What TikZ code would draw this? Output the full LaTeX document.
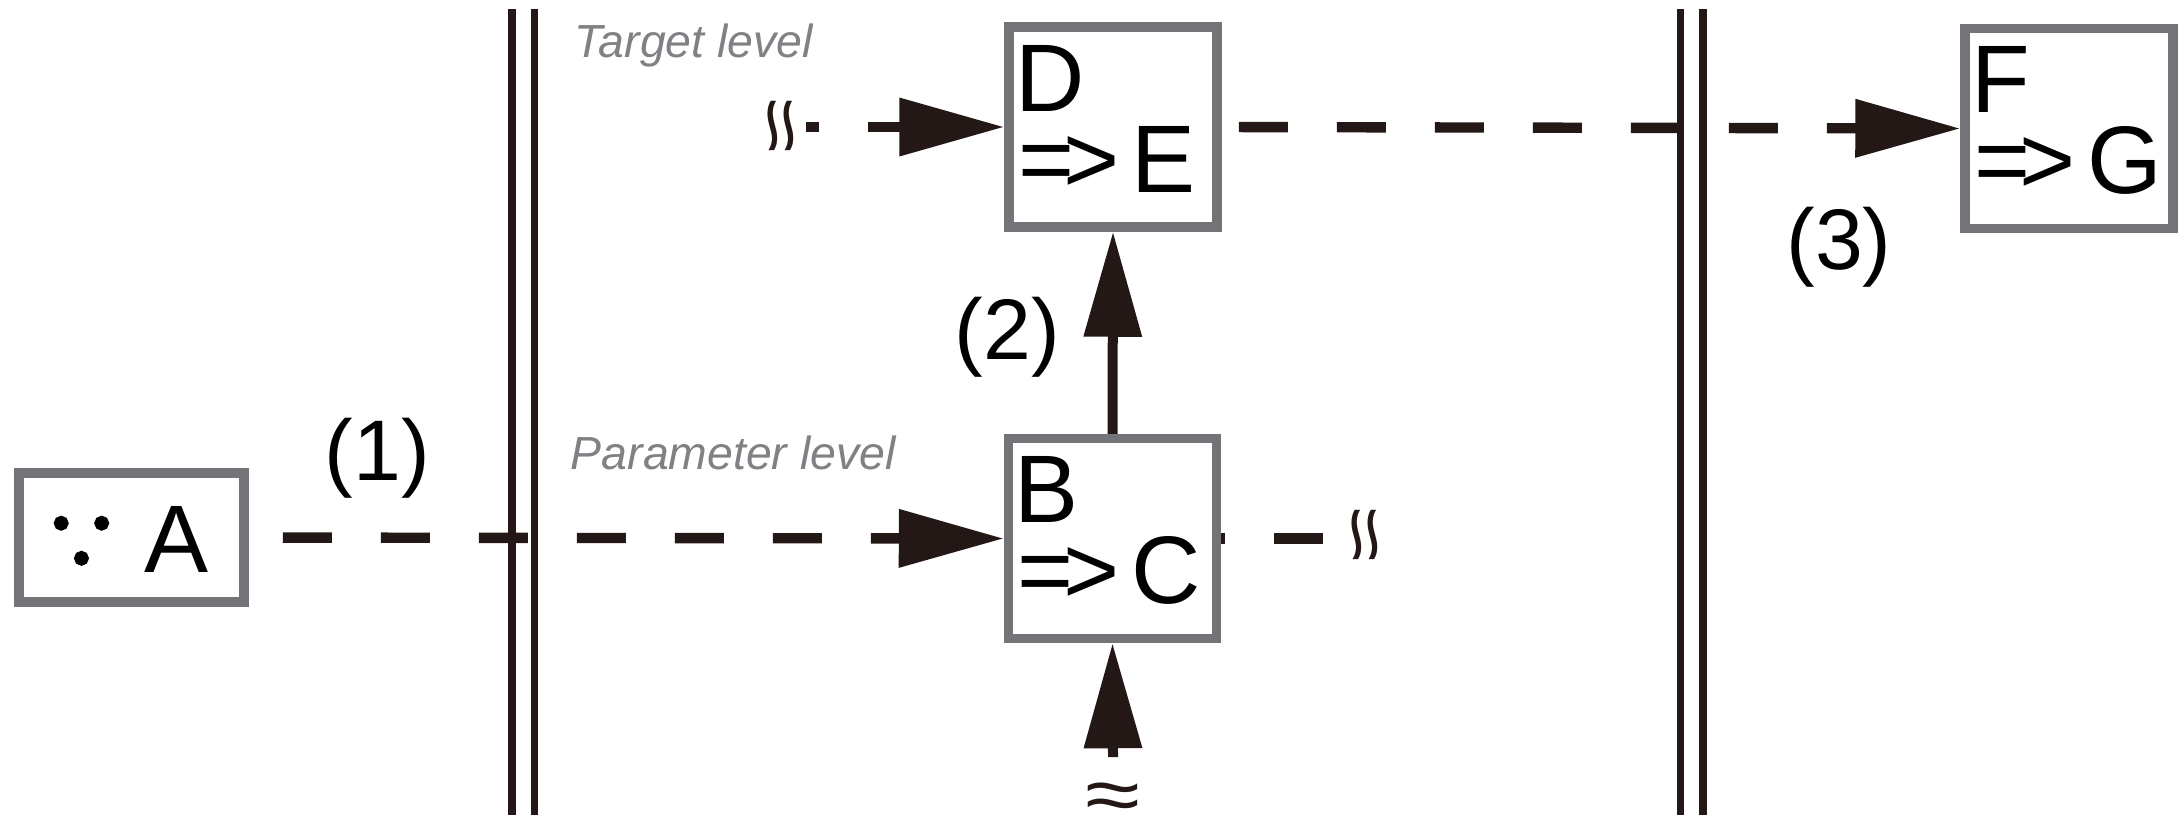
\documentclass[tikz,border=0pt]{standalone}
\usepackage{amssymb}
\usepackage{fontspec}
\setmainfont{Liberation Sans}
\usetikzlibrary{arrows.meta}
\definecolor{ink}{RGB}{35,24,21}
\definecolor{boxgray}{RGB}{116,115,120}
\definecolor{lvlgray}{RGB}{128,129,133}
\newcommand\bxtxt[2]{\parbox[c][50pt][t]{52pt}{\fontsize{24}{20.25}\selectfont\raggedright\hspace*{1.6pt}\rule{0pt}{21pt}#1\\\hspace*{2.35pt}=\kern-.115em>\kern-.15em\ #2}}
\newcommand\wv{\scalebox{1}[0.78]{≈}}
\newcommand\heavy[1]{\special{pdf:literal direct 0 G 2 Tr 1.8 w}#1\special{pdf:literal direct 0 Tr}}
\tikzset{
  bx/.style={draw=boxgray, line width=2.375pt, fill=white, inner sep=0pt, rectangle},
  dsh/.style={draw=ink, line width=2.6pt, dash pattern=on 12.25pt off 12.25pt},
  sld/.style={draw=ink, line width=2.5pt},
  arrowhd/.style={-{Triangle[length=26.25pt,width=14pt]}},
  lvl/.style={font=\fontsize{11.6}{13}\selectfont\itshape, text=lvlgray, inner sep=0pt, anchor=base west},
  lbl/.style={font=\fontsize{21.5}{24}\selectfont, inner sep=0pt, anchor=base},
  sqg/.style={font=\fontsize{25}{26}\selectfont, inner sep=0pt, text=ink},
  vline/.style={draw=ink, line width=1.9pt},
}
\begin{document}
\begin{tikzpicture}[x=0.25pt, y=-0.25pt]
\useasboundingbox (0,0) rectangle (2179,815);
% separator lines
\draw[vline] (512,9) -- (512,815);
\draw[vline] (534.5,9) -- (534.5,815);
\draw[vline] (1680.5,9) -- (1680.5,815);
\draw[vline] (1703,9) -- (1703,815);
% boxes
\node[bx, minimum width=56.25pt, minimum height=32.25pt, text height=17.5pt, text depth=0pt,
      font=\fontsize{24}{28}\selectfont] (A) at (131.5,537.5)
      {\raisebox{4pt}{\resizebox{13.5pt}{!}{\heavy{$\because$}}}\hspace{9pt}A};
\node[bx] (D) at (1113,127) {\bxtxt{D}{E}};
\node[bx] (B) at (1112.5,538.5) {\bxtxt{B}{C}};
\node[bx] (F) at (2069,128.5) {\bxtxt{F}{G}};
% level labels
\node[lvl] (tl) at (574,57) {Target level};
\node[lvl] (pl) at (570,469) {Parameter level};
% number labels
\node[lbl] (n1) at (377.5,480) {(1)};
\node[lbl] (n2) at (1007.5,359) {(2)};
\node[lbl] (n3) at (1839,269) {(3)};
% squiggles
\node[sqg, rotate=90] (w1) at (787,126) {\reflectbox{\wv}};
\node[sqg, rotate=90] (w2) at (1371,535) {\reflectbox{\wv}};
\node[sqg] (w3) at (1113,802) {\wv};
\coordinate (s1) at (806,127);
\coordinate (s2) at (1346,538.5);
\coordinate (s3) at (1113,757);
% connectors
\draw[dsh, arrowhd, dash phase=16pt] (A.east) -- (B.west);
\draw[dsh, arrowhd, dash phase=9pt] (s1) -- (D.west);
\draw[dsh, arrowhd, dash phase=20.25pt] (D.east) -- (F.west);
\draw[dsh, dash phase=11.25pt] (B.east) -- (s2);
\draw[sld, arrowhd] (B.north) -- (D.south);
\draw[sld, arrowhd] (s3) -- (B.south);
\end{tikzpicture}
\end{document}
